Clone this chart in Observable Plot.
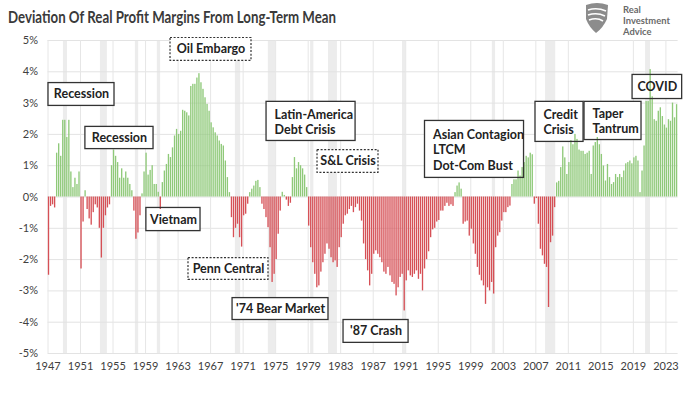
<!DOCTYPE html>
<html>
<head>
<meta charset="utf-8">
<script src="https://cdn.jsdelivr.net/npm/d3@7"></script>
<script src="https://cdn.jsdelivr.net/npm/@observablehq/plot@0.6"></script>
<style>
  html, body { margin: 0; padding: 0; background: #fff; }
  #wrap { position: relative; width: 700px; height: 394px; overflow: hidden; font-family: Lato, "Open Sans", sans-serif; }
  #chart { position: absolute; left: 0; top: 0; }
  #head { position: absolute; left: 0; top: 0; }
</style>
</head>
<body>
<div id="wrap">
  <div id="chart"></div>
  <svg id="head" width="700" height="40" xmlns="http://www.w3.org/2000/svg">
    <text x="8" y="22.5" font-family="Lato" font-weight="700" font-size="16.2" fill="#3a3a3a" textLength="328" lengthAdjust="spacingAndGlyphs">Deviation Of Real Profit Margins From Long-Term Mean</text>
    <g fill="#8c8c8c">
      <path d="M586,5 Q597,1 608,5 L607,19 Q603,28 596,33 Q589,27 586,19 Z"/>
    </g>
    <g stroke="#fff" stroke-width="1.6" fill="none">
      <path d="M588,10 Q597,7 606,11"/>
      <path d="M588,15 Q597,12 605,16"/>
      <path d="M589,20 Q597,17 603,21"/>
    </g>
    <g font-family="Lato" font-weight="700" font-size="9.4" fill="#6a6a6a">
      <text x="623" y="12.5">Real</text>
      <text x="623" y="23.8">Investment</text>
      <text x="623" y="35.1">Advice</text>
    </g>
  </svg>
</div>
<script>
// ---- data ----
const startYear = 1947; // first quarter: 1947 Q1, quarterly values (%)
const dev1947_1957 = [
  -2.5, -0.3, -0.25, -0.35,
  1.4, 1.7, 1.3, 2.45, 2.45, 1.9, 2.45, 0.8, 0.3, 0.6, 0.4, 0.8,
  -2.3, -0.8, 0.2, -0.4, -0.7, -0.9, -0.5, -0.25, -0.35, -1.0, -1.95, -1.0, -0.6, -0.35, -0.25,
  1.0, 1.5, 1.3, 1.1, 0.6, 0.9, 0.6, 0.8, 0.6, 0.4, 0.2
];
const dev1957_1969 = [
  -0.45, -1.35, -1.15, -0.6,
  0.1, 0.8, 1.4, 0.7, 0.85, 1.0, 0.4, 0.4, 0.15,
  -0.4,
  0.46, 0.83, 1.04, 1.36, 1.26, 1.57, 1.95, 2.16, 2.0, 2.1, 2.77, 2.74, 2.69, 2.59, 3.53, 3.6, 3.6,
  3.8, 3.94, 3.65, 3.44, 3.17, 2.96, 2.74, 2.37, 2.21, 2.05, 1.95, 1.79, 1.68, 1.63, 1.15, 0.62, 0.14
];
const dev1969_1985 = [
  -0.66, -1.3, -1.0, -0.87, -1.3, -1.6, -0.6, -0.55, -0.23,
  0.14, 0.25, 0.35, 0.5, 0.53, 0.3,
  -0.23, -0.4, -0.66, -0.98, -1.62, -2.73, -2.47, -2.0, -1.19, -0.45,
  0.15, 0.05, -0.1, -0.3, -0.2,
  0.62, 1.26, 0.9, 1.1, 1.0, 0.9, 0.7, 0.3,
  -0.93, -1.62, -2.1, -2.47, -2.9, -2.84, -2.4, -2.1, -1.83, -1.5, -1.67, -1.94, -2.1, -2.04, -2.25,
  -1.62, -1.3, -0.87, -0.6, -0.55, -0.4, -0.3, -0.5, -0.34, -0.23, -0.45, -0.77
];
const dev1985_1997 = [
  -1.5, -2.0, -2.36, -2.84, -2.47, -1.83, -1.72, -1.83, -1.94, -2.1, -2.4, -2.47, -2.25, -2.52, -2.73,
  -2.79, -3.16, -2.9, -2.57, -2.47, -3.64, -2.68, -2.36, -2.52, -2.57, -2.47, -2.36, -2.63, -2.47, -3.0,
  -2.3, -2.0, -1.75, -1.3, -1.05, -1.0, -0.8, -0.75, -0.45, -0.45, -0.3, -0.2, -0.3, -0.25, -0.3,
  0.14, 0.35, 0.45, 0.25
];
const dev1998_2009 = [
  -0.87, -0.8, -0.77, -1.25, -1.03, -1.5, -1.83, -2.25, -2.5, -2.68, -2.84, -3.43, -2.9, -3.0, -2.73, -3.1,
  -1.62, -1.25, -1.14, -0.77, -0.5, -0.5, -0.34, -0.29,
  0.4, 0.55, 0.55, 0.83, 0.67, 0.94, 1.1, 1.3, 1.25, 1.4, 1.35,
  -0.23, -0.05, -0.87, -1.67, -1.88, -2.15, -2.25, -3.53, -1.46, -1.25, -0.34
];
const dev2009_2024 = [
  0.45, 0.5, 0.94, 1.6, 1.25, 0.72, 1.1, 1.8, 1.67, 2.0,
  1.84, 1.5, 1.46, 1.46, 1.36, 1.4, 1.46, 0.72, 1.63, 1.74,
  1.9, 1.67, 1.36, 0.99, 0.51, 1.04, 0.62, 0.4, 0.46, 0.72,
  0.62, 0.72, 0.62, 0.83, 1.06, 1.1, 1.15, 1.06, 1.25, 1.3,
  1.15, 0.14, 0.83, 1.63, 3.05, 3.05, 4.07, 3.2, 2.47, 2.42,
  2.74, 2.85, 2.57, 2.3, 2.2, 2.47, 2.42, 3.0, 2.53, 2.95
];

// recession shading (years, as drawn)
const recessionStart = [1948.9, 1953.45, 1957.75, 1960.45, 1970.05, 1974.1, 1979.3, 1981.5, 1990.6, 2001.65, 2008.2, 2020.5];
const recessionEnd   = [1949.4, 1954.3, 1958.15, 1960.85, 1970.7, 1975.0, 1979.7, 1982.6, 1991.0, 2002.05, 2009.45, 2021.1];

// tick labels
const xTickYears = d3.range(1947, 2024, 4);
const yTickValues = d3.range(-5, 6, 1);

// annotations: text and the box they sit in (years / percent)
const noteText = ["Recession", "Recession", "Oil Embargo", "Vietnam", "Penn Central", "'74 Bear Market", "'87 Crash",
  "Latin-America\nDebt Crisis", "S&L Crisis", "Asian Contagion\nLTCM\nDot-Com Bust", "Credit\nCrisis", "Taper\nTantrum", "COVID"];
const noteYear1 = [1947.06, 1951.6, 1962.07, 1959.1, 1964.28, 1969.7, 1983.35, 1973.88, 1980.15, 1993.37, 2006.96, 2012.99, 2018.9];
const noteYear2 = [1955.18, 1959.98, 1972.03, 1965.76, 1974.12, 1981.5, 1991.35, 1984.83, 1987.65, 2005.55, 2012.87, 2020.0, 2025.0];
const notePct1  = [3.64, 2.24, 5.08, -0.35, -1.95, -3.23, -3.93, 3.04, 1.50, 2.43, 3.04, 3.04, 3.9];
const notePct2  = [2.91, 1.53, 4.35, -1.09, -2.65, -3.93, -4.66, 1.79, 0.77, 0.61, 1.76, 1.82, 3.13];
const noteDashed = [false, false, true, false, true, false, false, false, true, false, false, false, false];

// ---- build ----
const values = [...dev1947_1957, ...dev1957_1969, ...dev1969_1985, ...dev1985_1997, ...dev1998_2009, ...dev2009_2024];
const bars = values.map((v, i) => ({ x1: startYear + i / 4, x2: startYear + (i + 1) / 4, v }));
const recessions = recessionStart.map((s, i) => ({ s, e: recessionEnd[i] }));
const notes = noteText.map((t, i) => ({
  t, x1: noteYear1[i], x2: noteYear2[i], y1: notePct1[i], y2: notePct2[i], dashed: noteDashed[i],
  multi: t.includes("\n")
}));

const GREEN = "#8fc979";
const RED = "#d65056";

const chart = Plot.plot({
  width: 700,
  height: 394,
  marginTop: 40,
  marginBottom: 41,
  marginLeft: 47.5,
  marginRight: 22.4,
  style: { fontFamily: "Lato, sans-serif", fontSize: "11px", color: "#404040", background: "transparent" },
  x: { domain: [1947, 2024.5] },
  y: { domain: [-5, 5] },
  color: { type: "identity" },
  marks: [
    Plot.rect(recessions, { x1: "s", x2: "e", y1: -5, y2: 5, fill: "#ececec" }),
    Plot.ruleY(yTickValues, { stroke: "#e3e3e3", strokeWidth: 1 }),
    Plot.ruleX(xTickYears, { y1: -5, y2: 5, stroke: "#e6e6e6", strokeWidth: 1 }),
    Plot.rect(notes, { x1: "x1", x2: "x2", y1: "y1", y2: "y2", fill: "white" }),
    Plot.rect(bars, { x1: "x1", x2: "x2", y1: 0, y2: "v", fill: d => d.v >= 0 ? GREEN : RED, insetLeft: 0.35, insetRight: 0.35 }),
    Plot.rect(notes.filter(d => !d.dashed), { x1: "x1", x2: "x2", y1: "y1", y2: "y2", fill: "none", stroke: "#333", strokeWidth: 1.3 }),
    Plot.rect(notes.filter(d => d.dashed), { x1: "x1", x2: "x2", y1: "y1", y2: "y2", fill: "none", stroke: "#333", strokeWidth: 1.2, strokeDasharray: "2,1.6" }),
    Plot.text(notes.filter(d => !d.multi), { x: d => (d.x1 + d.x2) / 2, y: d => (d.y1 + d.y2) / 2, text: "t", fontSize: 12.5, fontWeight: "bold", fill: "#222" }),
    Plot.text(notes.filter(d => d.multi), { x: "x1", y: d => (d.y1 + d.y2) / 2, text: "t", dx: 8, textAnchor: "start", lineHeight: 1.22, fontSize: 12.5, fontWeight: "bold", fill: "#222" }),
    Plot.axisY(yTickValues, { tickSize: 0, tickPadding: 10, tickFormat: d => d + "%", fontSize: 11 }),
    Plot.axisX(xTickYears, { tickSize: 0, tickPadding: 9, tickFormat: d => String(d), fontSize: 11 })
  ]
});
document.getElementById("chart").appendChild(chart);
</script>
</body>
</html>
